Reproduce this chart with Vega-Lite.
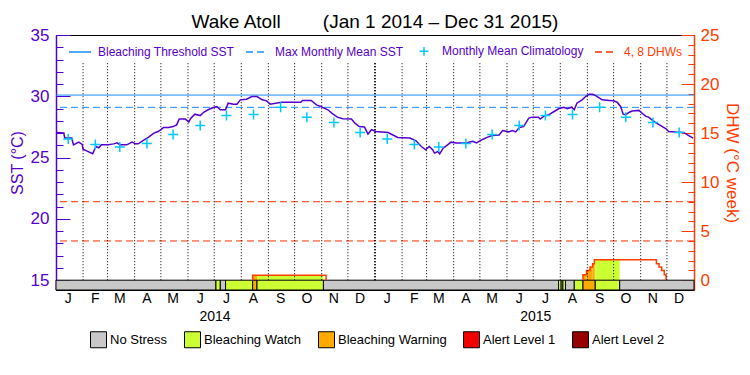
{
  "$schema": "https://vega.github.io/schema/vega-lite/v6.json",
  "width": 638,
  "height": 255,
  "autosize": {"type": "none"},
  "padding": {"left": 56, "top": 35, "right": 56, "bottom": 85},
  "background": "white",
  "config": {
    "font": "Liberation Sans",
    "view": {"stroke": "black", "strokeWidth": 1}
  },
  "title": {
    "text": "Wake Atoll\u00a0\u00a0\u00a0\u00a0\u00a0\u00a0\u00a0\u00a0(Jan 1 2014 \u2013 Dec 31 2015)",
    "fontSize": 19,
    "font": "Liberation Sans",
    "fontWeight": "normal",
    "color": "black",
    "anchor": "middle",
    "offset": 4,
    "dy": 10
  },
  "datasets": {
    "sst": [
      {"date": "2014-01-01", "sst": 27.05}, {"date": "2014-01-10", "sst": 27.0}, {"date": "2014-01-11", "sst": 26.6},
      {"date": "2014-01-19", "sst": 26.6}, {"date": "2014-01-21", "sst": 26.04}, {"date": "2014-01-27", "sst": 26.26},
      {"date": "2014-01-31", "sst": 26.08}, {"date": "2014-02-01", "sst": 25.69}, {"date": "2014-02-05", "sst": 25.55},
      {"date": "2014-02-12", "sst": 25.31}, {"date": "2014-02-14", "sst": 25.64}, {"date": "2014-02-16", "sst": 25.9},
      {"date": "2014-02-19", "sst": 25.8}, {"date": "2014-02-22", "sst": 26.04}, {"date": "2014-03-02", "sst": 26.04},
      {"date": "2014-03-08", "sst": 26.12}, {"date": "2014-03-12", "sst": 26.2}, {"date": "2014-03-15", "sst": 26.04},
      {"date": "2014-03-23", "sst": 26.04}, {"date": "2014-03-29", "sst": 26.26}, {"date": "2014-04-02", "sst": 26.12},
      {"date": "2014-04-05", "sst": 26.12}, {"date": "2014-04-11", "sst": 26.4}, {"date": "2014-04-17", "sst": 26.67},
      {"date": "2014-04-23", "sst": 27.0}, {"date": "2014-04-28", "sst": 27.13}, {"date": "2014-05-04", "sst": 27.45},
      {"date": "2014-05-10", "sst": 27.45}, {"date": "2014-05-15", "sst": 27.53}, {"date": "2014-05-19", "sst": 27.67},
      {"date": "2014-05-22", "sst": 28.14}, {"date": "2014-05-29", "sst": 28.14}, {"date": "2014-06-02", "sst": 27.9},
      {"date": "2014-06-04", "sst": 28.2}, {"date": "2014-06-09", "sst": 28.54}, {"date": "2014-06-15", "sst": 28.43},
      {"date": "2014-06-19", "sst": 28.7}, {"date": "2014-06-24", "sst": 28.9}, {"date": "2014-06-30", "sst": 29.08},
      {"date": "2014-07-04", "sst": 29.17}, {"date": "2014-07-08", "sst": 28.9}, {"date": "2014-07-14", "sst": 28.9},
      {"date": "2014-07-17", "sst": 29.44}, {"date": "2014-07-23", "sst": 29.36}, {"date": "2014-07-27", "sst": 29.36},
      {"date": "2014-07-31", "sst": 29.71}, {"date": "2014-08-07", "sst": 29.76}, {"date": "2014-08-13", "sst": 29.98},
      {"date": "2014-08-19", "sst": 29.98}, {"date": "2014-08-25", "sst": 29.71}, {"date": "2014-08-30", "sst": 29.63},
      {"date": "2014-09-03", "sst": 29.36}, {"date": "2014-09-16", "sst": 29.52}, {"date": "2014-10-08", "sst": 29.52},
      {"date": "2014-10-10", "sst": 29.66}, {"date": "2014-10-20", "sst": 29.66}, {"date": "2014-10-26", "sst": 29.3},
      {"date": "2014-10-31", "sst": 29.17}, {"date": "2014-11-08", "sst": 28.9}, {"date": "2014-11-14", "sst": 28.54},
      {"date": "2014-11-19", "sst": 28.3}, {"date": "2014-11-25", "sst": 28.17}, {"date": "2014-12-05", "sst": 28.14},
      {"date": "2014-12-09", "sst": 27.81}, {"date": "2014-12-14", "sst": 27.53}, {"date": "2014-12-20", "sst": 27.49},
      {"date": "2014-12-24", "sst": 26.92}, {"date": "2014-12-28", "sst": 27.27}, {"date": "2015-01-02", "sst": 27.13},
      {"date": "2015-01-16", "sst": 27.05}, {"date": "2015-01-27", "sst": 26.64}, {"date": "2015-02-10", "sst": 26.59},
      {"date": "2015-02-17", "sst": 26.37}, {"date": "2015-02-23", "sst": 25.9}, {"date": "2015-02-28", "sst": 25.64},
      {"date": "2015-03-04", "sst": 25.9}, {"date": "2015-03-08", "sst": 25.64}, {"date": "2015-03-10", "sst": 25.37},
      {"date": "2015-03-14", "sst": 25.5}, {"date": "2015-03-16", "sst": 25.3}, {"date": "2015-03-20", "sst": 25.77},
      {"date": "2015-03-25", "sst": 26.04}, {"date": "2015-03-29", "sst": 26.26}, {"date": "2015-04-04", "sst": 26.2},
      {"date": "2015-04-15", "sst": 26.2}, {"date": "2015-04-23", "sst": 26.33}, {"date": "2015-04-27", "sst": 26.2},
      {"date": "2015-05-04", "sst": 26.48}, {"date": "2015-05-10", "sst": 26.67}, {"date": "2015-05-15", "sst": 26.8},
      {"date": "2015-05-23", "sst": 26.85}, {"date": "2015-05-27", "sst": 27.2}, {"date": "2015-06-03", "sst": 27.1},
      {"date": "2015-06-07", "sst": 27.2}, {"date": "2015-06-11", "sst": 27.1}, {"date": "2015-06-15", "sst": 27.45},
      {"date": "2015-06-20", "sst": 27.53}, {"date": "2015-06-26", "sst": 28.22}, {"date": "2015-06-30", "sst": 28.3},
      {"date": "2015-07-07", "sst": 28.3}, {"date": "2015-07-09", "sst": 28.14}, {"date": "2015-07-13", "sst": 28.36},
      {"date": "2015-07-19", "sst": 28.5}, {"date": "2015-07-25", "sst": 28.76}, {"date": "2015-07-30", "sst": 28.98},
      {"date": "2015-08-05", "sst": 29.1}, {"date": "2015-08-09", "sst": 28.98}, {"date": "2015-08-14", "sst": 29.11},
      {"date": "2015-08-17", "sst": 28.9}, {"date": "2015-08-20", "sst": 29.44}, {"date": "2015-08-26", "sst": 29.71},
      {"date": "2015-08-30", "sst": 29.98}, {"date": "2015-09-03", "sst": 30.17}, {"date": "2015-09-07", "sst": 30.17},
      {"date": "2015-09-10", "sst": 30.08}, {"date": "2015-09-14", "sst": 29.9}, {"date": "2015-09-18", "sst": 29.71},
      {"date": "2015-09-26", "sst": 29.66}, {"date": "2015-10-01", "sst": 29.63}, {"date": "2015-10-05", "sst": 29.52},
      {"date": "2015-10-09", "sst": 29.17}, {"date": "2015-10-12", "sst": 28.54}, {"date": "2015-10-15", "sst": 28.5},
      {"date": "2015-10-19", "sst": 28.7}, {"date": "2015-10-22", "sst": 28.8}, {"date": "2015-10-30", "sst": 28.85},
      {"date": "2015-11-03", "sst": 28.6}, {"date": "2015-11-07", "sst": 28.36}, {"date": "2015-11-10", "sst": 28.3},
      {"date": "2015-11-14", "sst": 28.08}, {"date": "2015-11-18", "sst": 27.86}, {"date": "2015-11-24", "sst": 27.6},
      {"date": "2015-11-30", "sst": 27.35}, {"date": "2015-12-03", "sst": 27.13}, {"date": "2015-12-11", "sst": 27.08},
      {"date": "2015-12-20", "sst": 27.05}, {"date": "2015-12-26", "sst": 26.8}, {"date": "2015-12-31", "sst": 26.59}
    ],
    "clim": [
      {"date": "2014-01-15", "clim": 26.52, "series": "Monthly Mean Climatology"},
      {"date": "2014-02-15", "clim": 26.07, "series": "Monthly Mean Climatology"},
      {"date": "2014-03-15", "clim": 25.86, "series": "Monthly Mean Climatology"},
      {"date": "2014-04-15", "clim": 26.16, "series": "Monthly Mean Climatology"},
      {"date": "2014-05-15", "clim": 26.89, "series": "Monthly Mean Climatology"},
      {"date": "2014-06-15", "clim": 27.62, "series": "Monthly Mean Climatology"},
      {"date": "2014-07-15", "clim": 28.43, "series": "Monthly Mean Climatology"},
      {"date": "2014-08-15", "clim": 28.52, "series": "Monthly Mean Climatology"},
      {"date": "2014-09-15", "clim": 29.1, "series": "Monthly Mean Climatology"},
      {"date": "2014-10-15", "clim": 28.3, "series": "Monthly Mean Climatology"},
      {"date": "2014-11-15", "clim": 27.86, "series": "Monthly Mean Climatology"},
      {"date": "2014-12-15", "clim": 27.05, "series": "Monthly Mean Climatology"},
      {"date": "2015-01-15", "clim": 26.52, "series": "Monthly Mean Climatology"},
      {"date": "2015-02-15", "clim": 26.07, "series": "Monthly Mean Climatology"},
      {"date": "2015-03-15", "clim": 25.86, "series": "Monthly Mean Climatology"},
      {"date": "2015-04-15", "clim": 26.16, "series": "Monthly Mean Climatology"},
      {"date": "2015-05-15", "clim": 26.89, "series": "Monthly Mean Climatology"},
      {"date": "2015-06-15", "clim": 27.62, "series": "Monthly Mean Climatology"},
      {"date": "2015-07-15", "clim": 28.43, "series": "Monthly Mean Climatology"},
      {"date": "2015-08-15", "clim": 28.52, "series": "Monthly Mean Climatology"},
      {"date": "2015-09-15", "clim": 29.1, "series": "Monthly Mean Climatology"},
      {"date": "2015-10-15", "clim": 28.3, "series": "Monthly Mean Climatology"},
      {"date": "2015-11-15", "clim": 27.86, "series": "Monthly Mean Climatology"},
      {"date": "2015-12-15", "clim": 27.05, "series": "Monthly Mean Climatology"}
    ],
    "refs": [
      {"series": "Bleaching Threshold SST", "value": 30.1},
      {"series": "Max Monthly Mean SST", "value": 29.1}
    ],
    "dhwrefs": [
      {"series": "4, 8 DHWs", "value": 4},
      {"series": "4, 8 DHWs", "value": 8}
    ],
    "months": [
      {"date": "2014-02-01"}, {"date": "2014-03-01"}, {"date": "2014-04-01"}, {"date": "2014-05-01"},
      {"date": "2014-06-01"}, {"date": "2014-07-01"}, {"date": "2014-08-01"}, {"date": "2014-09-01"},
      {"date": "2014-10-01"}, {"date": "2014-11-01"}, {"date": "2014-12-01"}, {"date": "2015-01-01"},
      {"date": "2015-02-01"}, {"date": "2015-03-01"}, {"date": "2015-04-01"}, {"date": "2015-05-01"},
      {"date": "2015-06-01"}, {"date": "2015-07-01"}, {"date": "2015-08-01"}, {"date": "2015-09-01"},
      {"date": "2015-10-01"}, {"date": "2015-11-01"}, {"date": "2015-12-01"}
    ],
    "yearline": [
      {"date": "2015-01-01"}
    ],
    "monthlabels": [
      {"date": "2014-01-15", "label": "J"}, {"date": "2014-02-15", "label": "F"}, {"date": "2014-03-15", "label": "M"},
      {"date": "2014-04-15", "label": "A"}, {"date": "2014-05-15", "label": "M"}, {"date": "2014-06-15", "label": "J"},
      {"date": "2014-07-15", "label": "J"}, {"date": "2014-08-15", "label": "A"}, {"date": "2014-09-15", "label": "S"},
      {"date": "2014-10-15", "label": "O"}, {"date": "2014-11-15", "label": "N"}, {"date": "2014-12-15", "label": "D"},
      {"date": "2015-01-15", "label": "J"}, {"date": "2015-02-15", "label": "F"}, {"date": "2015-03-15", "label": "M"},
      {"date": "2015-04-15", "label": "A"}, {"date": "2015-05-15", "label": "M"}, {"date": "2015-06-15", "label": "J"},
      {"date": "2015-07-15", "label": "J"}, {"date": "2015-08-15", "label": "A"}, {"date": "2015-09-15", "label": "S"},
      {"date": "2015-10-15", "label": "O"}, {"date": "2015-11-15", "label": "N"}, {"date": "2015-12-15", "label": "D"}
    ],
    "years": [
      {"date": "2014-07-02", "label": "2014"},
      {"date": "2015-07-04", "label": "2015"}
    ],
    "status": [
      {"start": "2014-01-01", "end": "2014-07-03", "status": "No Stress"},
      {"start": "2014-07-03", "end": "2014-07-08", "status": "Bleaching Watch"},
      {"start": "2014-07-08", "end": "2014-07-14", "status": "No Stress"},
      {"start": "2014-07-14", "end": "2014-08-14", "status": "Bleaching Watch"},
      {"start": "2014-08-14", "end": "2014-08-19", "status": "Bleaching Warning"},
      {"start": "2014-08-19", "end": "2014-11-03", "status": "Bleaching Watch"},
      {"start": "2014-11-03", "end": "2015-07-30", "status": "No Stress"},
      {"start": "2015-07-30", "end": "2015-08-02", "status": "Bleaching Watch"},
      {"start": "2015-08-02", "end": "2015-08-04", "status": "No Stress"},
      {"start": "2015-08-04", "end": "2015-08-07", "status": "Bleaching Watch"},
      {"start": "2015-08-07", "end": "2015-08-17", "status": "No Stress"},
      {"start": "2015-08-17", "end": "2015-08-27", "status": "Bleaching Watch"},
      {"start": "2015-08-27", "end": "2015-09-10", "status": "Bleaching Warning"},
      {"start": "2015-09-10", "end": "2015-10-08", "status": "Bleaching Watch"},
      {"start": "2015-10-08", "end": "2016-01-01", "status": "No Stress"}
    ],
    "dhwfill": [
      {"start": "2014-08-14", "end": "2014-08-19", "status": "Bleaching Warning", "dhw": 0.5},
      {"start": "2014-08-19", "end": "2014-11-03", "status": "Bleaching Watch", "dhw": 0.5},
      {"start": "2015-08-27", "end": "2015-08-31", "status": "Bleaching Warning", "dhw": 0.56},
      {"start": "2015-08-31", "end": "2015-09-04", "status": "Bleaching Warning", "dhw": 1.0},
      {"start": "2015-09-04", "end": "2015-09-07", "status": "Bleaching Warning", "dhw": 1.34},
      {"start": "2015-09-07", "end": "2015-09-09", "status": "Bleaching Warning", "dhw": 1.68},
      {"start": "2015-09-09", "end": "2015-09-10", "status": "Bleaching Warning", "dhw": 2.09},
      {"start": "2015-09-10", "end": "2015-10-08", "status": "Bleaching Watch", "dhw": 2.09}
    ],
    "dhw": [
      {"date": "2014-08-14", "dhw": 0, "episode": 1},
      {"date": "2014-08-14", "dhw": 0.5, "episode": 1},
      {"date": "2014-11-06", "dhw": 0, "episode": 1},
      {"date": "2015-08-27", "dhw": 0, "episode": 2},
      {"date": "2015-08-27", "dhw": 0.56, "episode": 2},
      {"date": "2015-08-31", "dhw": 1.0, "episode": 2},
      {"date": "2015-09-04", "dhw": 1.34, "episode": 2},
      {"date": "2015-09-07", "dhw": 1.68, "episode": 2},
      {"date": "2015-09-09", "dhw": 2.09, "episode": 2},
      {"date": "2015-11-19", "dhw": 1.68, "episode": 2},
      {"date": "2015-11-22", "dhw": 1.34, "episode": 2},
      {"date": "2015-11-25", "dhw": 1.0, "episode": 2},
      {"date": "2015-11-28", "dhw": 0.56, "episode": 2},
      {"date": "2015-11-30", "dhw": 0, "episode": 2}
    ]
  },
  "layer": [
    {
      "data": {"name": "dhwfill"},
      "mark": {"type": "rect"},
      "encoding": {
        "x": {
          "field": "start", "type": "temporal",
          "scale": {"type": "utc", "domain": [{"year": 2014, "month": 1, "date": 1, "utc": true}, {"year": 2016, "month": 1, "date": 1, "utc": true}]},
          "axis": null
        },
        "x2": {"field": "end"},
        "y": {
          "field": "dhw", "type": "quantitative",
          "scale": {"domain": [-1, 25], "nice": false, "zero": false},
          "axis": {
            "orient": "right", "title": "DHW (\u00b0C week)",
            "values": [0,1,2,3,4,5,6,7,8,9,10,11,12,13,14,15,16,17,18,19,20,21,22,23,24,25],
            "labelExpr": "datum.value % 5 == 0 ? datum.label : ''",
            "tickSize": -6,
            "tickColor": "#ff3c00", "tickWidth": 1, "domainColor": "#ff3c00", "domainWidth": 1.5,
            "labelFont": "Liberation Sans", "labelColor": "#ff3c00", "labelFontSize": 17, "labelPadding": 12,
            "titleFont": "Liberation Sans", "titleFontWeight": "normal", "titleColor": "#ff3c00", "titleFontSize": 17, "titlePadding": 4,
            "grid": false, "labelOverlap": false
          }
        },
        "y2": {"datum": 0},
        "fill": {
          "field": "status", "type": "nominal",
          "scale": {
            "domain": ["No Stress", "Bleaching Watch", "Bleaching Warning", "Alert Level 1", "Alert Level 2"],
            "range": ["#c8c8c8", "#ccff33", "#ffaa00", "#f00000", "#960000"]
          },
          "legend": {
            "orient": "none", "legendX": 34, "legendY": 296, "direction": "horizontal", "columns": 5,
            "title": null, "symbolType": "square", "symbolSize": 256, "symbolStrokeColor": "black",
            "symbolStrokeWidth": 1, "symbolOpacity": 1, "labelFont": "Liberation Sans", "labelFontSize": 13, "labelColor": "black",
            "labelOffset": 3, "columnPadding": 14, "padding": 0
          }
        }
      }
    },
    {
      "data": {"name": "status"},
      "mark": {"type": "rect", "stroke": "black", "strokeWidth": 1},
      "encoding": {
        "x": {"field": "start", "type": "temporal", "axis": null},
        "x2": {"field": "end"},
        "y": {"datum": 0, "type": "quantitative", "scale": {"domain": [-1, 25], "nice": false, "zero": false}, "axis": null},
        "y2": {"datum": -1},
        "fill": {
          "field": "status", "type": "nominal",
          "legend": {
            "orient": "none", "legendX": 34, "legendY": 296, "direction": "horizontal", "columns": 5,
            "title": null, "symbolType": "square", "symbolSize": 256, "symbolStrokeColor": "black",
            "symbolStrokeWidth": 1, "symbolOpacity": 1, "labelFont": "Liberation Sans", "labelFontSize": 13, "labelColor": "black",
            "labelOffset": 3, "columnPadding": 14, "padding": 0
          }
        }
      }
    },
    {
      "data": {"name": "dhw"},
      "mark": {"type": "line", "interpolate": "step-after", "color": "#ff3c00", "strokeWidth": 1.5},
      "encoding": {
        "x": {"field": "date", "type": "temporal", "axis": null},
        "y": {"field": "dhw", "type": "quantitative", "scale": {"domain": [-1, 25], "nice": false, "zero": false}, "axis": null},
        "detail": {"field": "episode", "type": "nominal"}
      }
    },
    {
      "data": {"name": "dhwrefs"},
      "mark": {"type": "rule", "strokeWidth": 1},
      "encoding": {
        "y": {
          "field": "value", "type": "quantitative", "scale": {"domain": [-1, 25], "nice": false, "zero": false},
          "axis": {"orient": "right", "title": null, "values": [0, 5, 10, 15, 20, 25], "labels": false, "domain": false, "grid": false, "tickSize": -13, "tickColor": "#ff3c00", "tickWidth": 1}
        },
        "stroke": {
          "field": "series", "type": "nominal",
          "scale": {"domain": ["Bleaching Threshold SST", "Max Monthly Mean SST", "Monthly Mean Climatology", "4, 8 DHWs"], "range": ["#1e8cff", "#1e8cff", "#00c8ff", "#ff3000"]},
          "legend": {"orient": "none", "legendX": 12, "legendY": 4, "direction": "horizontal", "columns": 4, "title": null, "symbolSize": 484, "symbolStrokeWidth": 1.5, "labelFont": "Liberation Sans", "labelFontSize": 12, "labelOffset": 6, "columnPadding": 8, "padding": 0, "encode": {"labels": {"update": {"fill": {"signal": "datum.value === '4, 8 DHWs' ? '#ff3c00' : '#5500cc'"}}}}}
        },
        "strokeDash": {
          "field": "series", "type": "nominal",
          "scale": {"domain": ["Bleaching Threshold SST", "Max Monthly Mean SST", "Monthly Mean Climatology", "4, 8 DHWs"], "range": [[1, 0], [7, 4], [1, 0], [7, 4]]},
          "legend": {"orient": "none", "legendX": 12, "legendY": 4, "direction": "horizontal", "columns": 4, "title": null, "symbolSize": 484, "symbolStrokeWidth": 1.5, "labelFont": "Liberation Sans", "labelFontSize": 12, "labelOffset": 6, "columnPadding": 8, "padding": 0, "encode": {"labels": {"update": {"fill": {"signal": "datum.value === '4, 8 DHWs' ? '#ff3c00' : '#5500cc'"}}}}}
        }
      }
    },
    {
      "data": {"name": "months"},
      "mark": {"type": "rule", "strokeDash": [1, 2], "color": "black", "strokeWidth": 1},
      "encoding": {
        "x": {"field": "date", "type": "temporal", "axis": null},
        "y": {
          "datum": 32.7, "type": "quantitative",
          "scale": {"domain": [14.2, 35], "nice": false, "zero": false},
          "axis": {
            "orient": "left", "title": "SST (\u00b0C)",
            "values": [15,16,17,18,19,20,21,22,23,24,25,26,27,28,29,30,31,32,33,34,35],
            "labelExpr": "datum.value % 5 == 0 ? datum.label : ''",
            "tickSize": -7,
            "tickColor": "#5500cc", "tickWidth": 1, "domainColor": "#5500cc", "domainWidth": 1.5,
            "labelFont": "Liberation Sans", "labelColor": "#5500cc", "labelFontSize": 17, "labelPadding": 14,
            "titleFont": "Liberation Sans", "titleFontWeight": "normal", "titleColor": "#5500cc", "titleFontSize": 16, "titlePadding": 5,
            "grid": false, "labelOverlap": false
          }
        },
        "y2": {"datum": 15}
      }
    },
    {
      "data": {"name": "yearline"},
      "mark": {"type": "rule", "strokeDash": [1, 2], "color": "black", "strokeWidth": 2},
      "encoding": {
        "x": {"field": "date", "type": "temporal", "axis": null},
        "y": {"datum": 32.7, "type": "quantitative", "scale": {"domain": [14.2, 35], "nice": false, "zero": false}, "axis": null},
        "y2": {"datum": 15}
      }
    },
    {
      "data": {"name": "refs"},
      "mark": {"type": "rule", "strokeWidth": 1},
      "encoding": {
        "y": {
          "field": "value", "type": "quantitative", "scale": {"domain": [14.2, 35], "nice": false, "zero": false},
          "axis": {"orient": "left", "title": null, "values": [15, 20, 25, 30, 35], "labels": false, "domain": false, "grid": false, "tickSize": -14, "tickColor": "#5500cc", "tickWidth": 1}
        },
        "stroke": {
          "field": "series", "type": "nominal",
          "legend": {"orient": "none", "legendX": 12, "legendY": 4, "direction": "horizontal", "columns": 4, "title": null, "symbolSize": 484, "symbolStrokeWidth": 1.5, "labelFont": "Liberation Sans", "labelFontSize": 12, "labelOffset": 6, "columnPadding": 8, "padding": 0, "encode": {"labels": {"update": {"fill": {"signal": "datum.value === '4, 8 DHWs' ? '#ff3c00' : '#5500cc'"}}}}}
        },
        "strokeDash": {
          "field": "series", "type": "nominal",
          "legend": {"orient": "none", "legendX": 12, "legendY": 4, "direction": "horizontal", "columns": 4, "title": null, "symbolSize": 484, "symbolStrokeWidth": 1.5, "labelFont": "Liberation Sans", "labelFontSize": 12, "labelOffset": 6, "columnPadding": 8, "padding": 0, "encode": {"labels": {"update": {"fill": {"signal": "datum.value === '4, 8 DHWs' ? '#ff3c00' : '#5500cc'"}}}}}
        }
      }
    },
    {
      "data": {"name": "sst"},
      "mark": {"type": "line", "color": "#5500cc", "strokeWidth": 1.5},
      "encoding": {
        "x": {"field": "date", "type": "temporal", "axis": null},
        "y": {"field": "sst", "type": "quantitative", "scale": {"domain": [14.2, 35], "nice": false, "zero": false}, "axis": null}
      }
    },
    {
      "data": {"name": "clim"},
      "mark": {"type": "point", "filled": false, "size": 625, "strokeWidth": 1.5, "opacity": 1},
      "encoding": {
        "x": {"field": "date", "type": "temporal", "axis": null},
        "y": {"field": "clim", "type": "quantitative", "scale": {"domain": [14.2, 35], "nice": false, "zero": false}, "axis": null},
        "stroke": {
          "field": "series", "type": "nominal",
          "legend": {"orient": "none", "legendX": 12, "legendY": 4, "direction": "horizontal", "columns": 4, "title": null, "symbolSize": 484, "symbolStrokeWidth": 1.5, "labelFont": "Liberation Sans", "labelFontSize": 12, "labelOffset": 6, "columnPadding": 8, "padding": 0, "encode": {"labels": {"update": {"fill": {"signal": "datum.value === '4, 8 DHWs' ? '#ff3c00' : '#5500cc'"}}}}}
        },
        "shape": {
          "field": "series", "type": "nominal",
          "scale": {"domain": ["Bleaching Threshold SST", "Max Monthly Mean SST", "Monthly Mean Climatology", "4, 8 DHWs"], "range": ["stroke", "stroke", "M-0.4,0H0.4M0,-0.4V0.4", "stroke"]},
          "legend": {"orient": "none", "legendX": 12, "legendY": 4, "direction": "horizontal", "columns": 4, "title": null, "symbolSize": 484, "symbolStrokeWidth": 1.5, "labelFont": "Liberation Sans", "labelFontSize": 12, "labelOffset": 6, "columnPadding": 8, "padding": 0, "encode": {"labels": {"update": {"fill": {"signal": "datum.value === '4, 8 DHWs' ? '#ff3c00' : '#5500cc'"}}}}}
        }
      }
    },
    {
      "data": {"name": "monthlabels"},
      "mark": {"type": "text", "fontSize": 14, "font": "Liberation Sans", "color": "black", "baseline": "middle", "align": "center"},
      "encoding": {
        "x": {"field": "date", "type": "temporal", "axis": null},
        "y": {"datum": 13.5, "type": "quantitative", "scale": {"domain": [14.2, 35], "nice": false, "zero": false}, "axis": null},
        "text": {"field": "label", "type": "nominal"}
      }
    },
    {
      "data": {"name": "years"},
      "mark": {"type": "text", "fontSize": 14, "font": "Liberation Sans", "color": "black", "baseline": "middle", "align": "center"},
      "encoding": {
        "x": {"field": "date", "type": "temporal", "axis": null},
        "y": {"datum": 12.0, "type": "quantitative", "scale": {"domain": [14.2, 35], "nice": false, "zero": false}, "axis": null},
        "text": {"field": "label", "type": "nominal"}
      }
    }
  ],
  "resolve": {"scale": {"y": "independent"}}
}
